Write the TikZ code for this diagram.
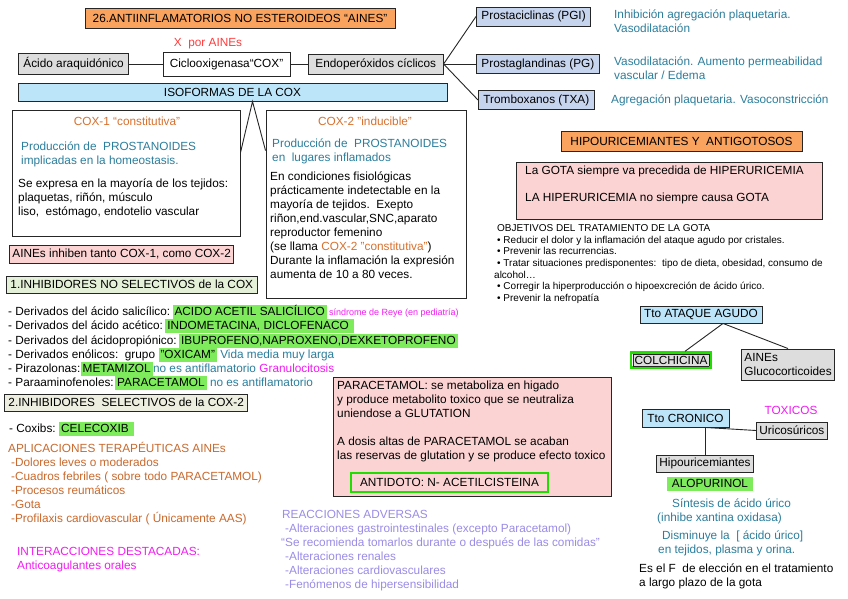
\documentclass[tikz,border=0pt]{standalone}
\usepackage{fontspec}
\setmainfont{Liberation Sans}
\usepackage{xcolor}
\usepackage{tikz}
\usetikzlibrary{positioning,calc}
\definecolor{ainOrange}{HTML}{F9A35E}
\definecolor{ainGray}{HTML}{DDDDDD}
\definecolor{ainLav}{HTML}{C7D4EE}
\definecolor{ainSky}{HTML}{BDE5FA}
\definecolor{ainPink}{HTML}{FCD3D3}
\definecolor{ainMint}{HTML}{E5F0D8}
\definecolor{ainCream}{HTML}{EDEDE0}
\definecolor{ainLime}{HTML}{7DEB5B}
\definecolor{ainGreen}{HTML}{22DD00}
\definecolor{txTeal}{HTML}{2C7E9C}
\definecolor{txOrange}{HTML}{D8702E}
\definecolor{txBrown}{HTML}{C9692D}
\definecolor{txMag}{HTML}{F21CF2}
\definecolor{txRed}{HTML}{FF3B3B}
\definecolor{txPurple}{HTML}{9B8CE6}
\newcommand{\mainsz}{\fontsize{11.8}{14}\selectfont}
\newcommand{\smallsz}{\fontsize{9}{11.5}\selectfont}
\newcommand{\objsz}{\fontsize{10}{11.6}\selectfont}

\begin{document}
\begin{tikzpicture}[x=1pt,y=-1pt,
  bx/.style={draw=black!85,line width=0.9pt,inner sep=2pt,font=\mainsz},
  lbx/.style={bx,anchor=west,inner xsep=5pt},
  txt/.style={inner sep=0pt,font=\mainsz,align=left},
  hl/.style={fill=ainLime,inner xsep=2pt,inner ysep=1.5pt,text height=9pt,text depth=2.5pt,font=\mainsz},
  ln/.style={draw=black!85,line width=0.9pt}]
\path[use as bounding box,fill=white] (0,0) rectangle (848,599);

% ruta de la COX
\node[bx,fill=ainOrange,minimum width=310,minimum height=20] (titulo) at (240,18) {26.ANTIINFLAMATORIOS NO ESTEROIDEOS “AINES”};
\node[txt,text=txRed] (xaines) at (208,44) {X\ \ por AINEs};
\node[lbx,fill=ainGray,minimum height=21] (acido) at (18,64) {Ácido araquidónico};
\node[bx,minimum width=127,minimum height=24] (cox) at (226.5,64) {Ciclooxigenasa“COX”};
\node[lbx,fill=ainGray,minimum height=20,inner xsep=7pt] (endo) at (308,64) {Endoperóxidos cíclicos};
\draw[ln] (acido) -- (cox); \draw[ln] (cox) -- (endo);
\node[lbx,fill=ainLav,minimum height=19] (pgi) at (476,16.5) {Prostaciclinas (PGI)};
\node[lbx,fill=ainLav,minimum height=19] (pg) at (476,64) {Prostaglandinas (PG)};
\node[lbx,fill=ainLav,minimum height=19] (txa) at (478,100) {Tromboxanos (TXA)};
\draw[ln] (endo.east) -- (pgi.west);
\draw[ln] (endo.east) -- (pg.west);
\draw[ln] (endo.east) -- (txa.west);
\node[txt,text=txTeal,anchor=west] (efpgi) at (614,21) {Inhibición agregación plaquetaria.\\Vasodilatación};
\node[txt,text=txTeal,anchor=west] (efpg) at (614,68) {Vasodilatación. Aumento permeabilidad\\vascular / Edema};
\node[txt,text=txTeal,anchor=west] (eftxa) at (611,100) {Agregación plaquetaria. Vasoconstricción};

% isoformas
\node[bx,fill=ainSky,minimum width=429,minimum height=18] (iso) at (232.5,92) {ISOFORMAS DE LA COX};
\node[bx,minimum width=228,minimum height=126] (cox1) at (126,173) {};
\node[bx,minimum width=200,minimum height=188] (cox2) at (366,204) {};
\coordinate (isopunta) at ([xshift=20]iso.south);
\draw[ln] (cox1.10) -- (isopunta) -- (cox2.152);
\node[txt,text=txOrange] (c1tit) at (127,121) {COX-1 “constitutiva”};
\node[txt,text=txTeal,anchor=west] (c1prod) at (21,154) {Producción de\ \ PROSTANOIDES\\implicadas en la homeostasis.};
\node[txt,anchor=west] (c1expr) at (18,198) {Se expresa en la mayoría de los tejidos:\\plaquetas, riñón, músculo\\liso,\ \ estómago, endotelio vascular};
\node[txt,text=txOrange] (c2tit) at (365,121) {COX-2 "inducible"};
\node[txt,text=txTeal,anchor=west] (c2prod) at (272,151) {Producción de\ \ PROSTANOIDES\\en\ \ lugares inflamados};
\node[txt,anchor=west] (c2cond) at (270,225.5) {En condiciones fisiológicas\\prácticamente indetectable en la\\mayoría de tejidos.\ \ Exepto\\riñon,end.vascular,SNC,aparato\\reproductor femenino\\(se llama \textcolor{txOrange}{COX-2 "constitutiva"})\\Durante la inflamación la expresión\\aumenta de 10 a 80 veces.};
\node[lbx,fill=ainPink,minimum height=18,inner xsep=3pt] (ambas) at (9,254) {AINEs inhiben tanto COX-1, como COX-2};

% no selectivos
\node[lbx,fill=ainMint,minimum height=17,inner xsep=4pt] (noselec) at (6,284.5) {1.INHIBIDORES NO SELECTIVOS de la COX};
\node[txt,anchor=base west] (sal) at (8,315) {- Derivados del ácido salicílico:};
\node[hl,anchor=base west] (salh) at ([xshift=2]sal.base east) {ACIDO ACETIL SALICÍLICO\ };
\node[txt,font=\smallsz,text=txMag,anchor=base west] (reye) at ([xshift=2]salh.base east) {síndrome de Reye (en pediatría)};
\node[txt,anchor=base west] (acet) at (8,329) {- Derivados del ácido acético:};
\node[hl,anchor=base west] (aceth) at ([xshift=2]acet.base east) {INDOMETACINA, DICLOFENACO\ \ };
\node[txt,anchor=base west] (prop) at (8,344) {- Derivados del ácidopropiónico:};
\node[hl,anchor=base west] (proph) at ([xshift=2]prop.base east) {IBUPROFENO,NAPROXENO,DEXKETOPROFENO\ };
\node[txt,anchor=base west] (enol) at (8,358) {- Derivados enólicos:\ \ grupo};
\node[hl,anchor=base west] (enolh) at ([xshift=3]enol.base east) {"OXICAM"\ };
\node[txt,text=txTeal,anchor=base west] (vida) at ([xshift=3]enolh.base east) {Vida media muy larga};
\node[txt,anchor=base west] (piraz) at (8,372) {- Pirazolonas:};
\node[hl,anchor=base west] (pirazh) at (piraz.base east) {METAMIZOL};
\node[txt,text=txTeal,anchor=base west] (noanti) at (pirazh.base east) {no es antiflamatorio};
\node[txt,text=txMag,anchor=base west] (granul) at ([xshift=3]noanti.base east) {Granulocitosis};
\node[txt,anchor=base west] (paraa) at (8,386) {- Paraaminofenoles:};
\node[hl,anchor=base west] (paraah) at ([xshift=1]paraa.base east) {PARACETAMOL};
\node[txt,text=txTeal,anchor=base west] (noanti2) at ([xshift=3]paraah.base east) {no es antiflamatorio};

% selectivos
\node[lbx,fill=ainCream,minimum height=17,inner xsep=4pt] (selec) at (4,402.5) {2.INHIBIDORES\ \ SELECTIVOS de la COX-2};
\node[txt,anchor=base west] (coxib) at (9,432) {- Coxibs:};
\node[hl,anchor=base west] (coxibh) at ([xshift=3]coxib.base east) {CELECOXIB\ \ };
\node[txt,text=txBrown,anchor=west] (aplic) at (8,484) {APLICACIONES TERAPÉUTICAS AINEs\\\hspace*{3pt}-Dolores leves o moderados\\\hspace*{3pt}-Cuadros febriles ( sobre todo PARACETAMOL)\\\hspace*{3pt}-Procesos reumáticos\\\hspace*{3pt}-Gota\\\hspace*{3pt}-Profilaxis cardiovascular ( Únicamente AAS)};
\node[txt,text=txMag,anchor=west] (interac) at (17,560) {INTERACCIONES DESTACADAS:\\Anticoagulantes orales};
\node[txt,text=txPurple,anchor=west] (reac) at (281,551) {\hspace*{1pt}REACCIONES ADVERSAS\\\hspace*{4pt}-Alteraciones gastrointestinales (excepto Paracetamol)\\“Se recomienda tomarlos durante o después de las comidas”\\\hspace*{4pt}-Alteraciones renales\\\hspace*{4pt}-Alteraciones cardiovasculares\\\hspace*{4pt}-Fenómenos de hipersensibilidad};

% paracetamol
\node[bx,fill=ainPink,minimum width=278,minimum height=119] (parac) at (472,436.5) {};
\node[txt,anchor=north west] (paractx) at (337,381) {PARACETAMOL: se metaboliza en higado\\y produce metabolito toxico que se neutraliza\\uniendose a GLUTATION\\[14pt]A dosis altas de PARACETAMOL se acaban\\las reservas de glutation y se produce efecto toxico};
\node[draw=ainGreen,line width=2.2pt,inner xsep=9pt,inner ysep=2pt,font=\mainsz,anchor=west,minimum height=19] (antid) at (350,482.5) {ANTIDOTO: N- ACETILCISTEINA};

% gota
\node[bx,fill=ainOrange,minimum width=241,minimum height=20] (hipou) at (681.5,141) {HIPOURICEMIANTES Y\ \ ANTIGOTOSOS};
\node[bx,fill=ainPink,minimum width=306,minimum height=57] (gota) at (669,190.5) {};
\node[txt,anchor=west] (gota1) at (525,171) {La GOTA siempre va precedida de HIPERURICEMIA};
\node[txt,anchor=west] (gota2) at (525,198) {LA HIPERURICEMIA no siempre causa GOTA};
\node[txt,font=\objsz,anchor=north west] (objet) at (494,224.5) {\hspace*{3pt}OBJETIVOS DEL TRATAMIENTO DE LA GOTA\\\hspace*{3pt}• Reducir el dolor y la inflamación del ataque agudo por cristales.\\\hspace*{3pt}• Prevenir las recurrencias.\\\hspace*{3pt}• Tratar situaciones predisponentes:\ \ tipo de dieta, obesidad, consumo de\\alcohol…\\\hspace*{3pt}• Corregir la hiperproducción o hipoexcreción de ácido úrico.\\\hspace*{3pt}• Prevenir la nefropatía};
\node[bx,fill=ainSky,minimum width=122,minimum height=17] (ataque) at (701,314.5) {Tto ATAQUE AGUDO};
\node[draw=ainGreen,line width=2.2pt,inner sep=1.5pt,font=\mainsz] (colch) at (671,360) {\setlength\fboxsep{1.5pt}\fcolorbox{black!85}{ainGray}{COLCHICINA}};
\node[lbx,fill=ainGray,align=left,inner xsep=3pt,minimum height=31] (aines2) at (741,364.5) {AINEs\\Glucocorticoides};
\coordinate (ataqpunta) at ([xshift=22]ataque.south);
\draw[ln] (ataqpunta) -- ([xshift=14]colch.north);
\draw[ln] (ataqpunta) -- (aines2.north);
\node[txt,text=txMag] (toxic) at (791,410) {TOXICOS};
\node[bx,fill=ainSky,minimum width=87,minimum height=18] (cronico) at (685.5,418) {Tto CRONICO};
\node[lbx,fill=ainGray,minimum height=17,inner xsep=3pt] (uricos) at (756,430.5) {Uricosúricos};
\node[lbx,fill=ainGray,minimum height=17,inner xsep=3pt] (hipoum) at (656,463.5) {Hipouricemiantes};
\draw[ln] (cronico.south -| hipoum.north) -- (hipoum.north);
\draw[ln] (cronico.south -| hipoum.north) -- (uricos.west);
\node[hl,minimum width=86] (alopu) at (710,484) {ALOPURINOL};
\node[txt,text=txTeal,anchor=west] (sintes) at (657,511) {\hspace*{15pt}Síntesis de ácido úrico\\(inhibe xantina oxidasa)};
\node[txt,text=txTeal,anchor=west] (dismin) at (658,543) {\hspace*{4pt}Disminuye la\ \ [ ácido úrico]\\en tejidos, plasma y orina.};
\node[txt,anchor=west] (eleccion) at (639,576.5) {Es el F\ \ de elección en el tratamiento\\a largo plazo de la gota};
\end{tikzpicture}
\end{document}
